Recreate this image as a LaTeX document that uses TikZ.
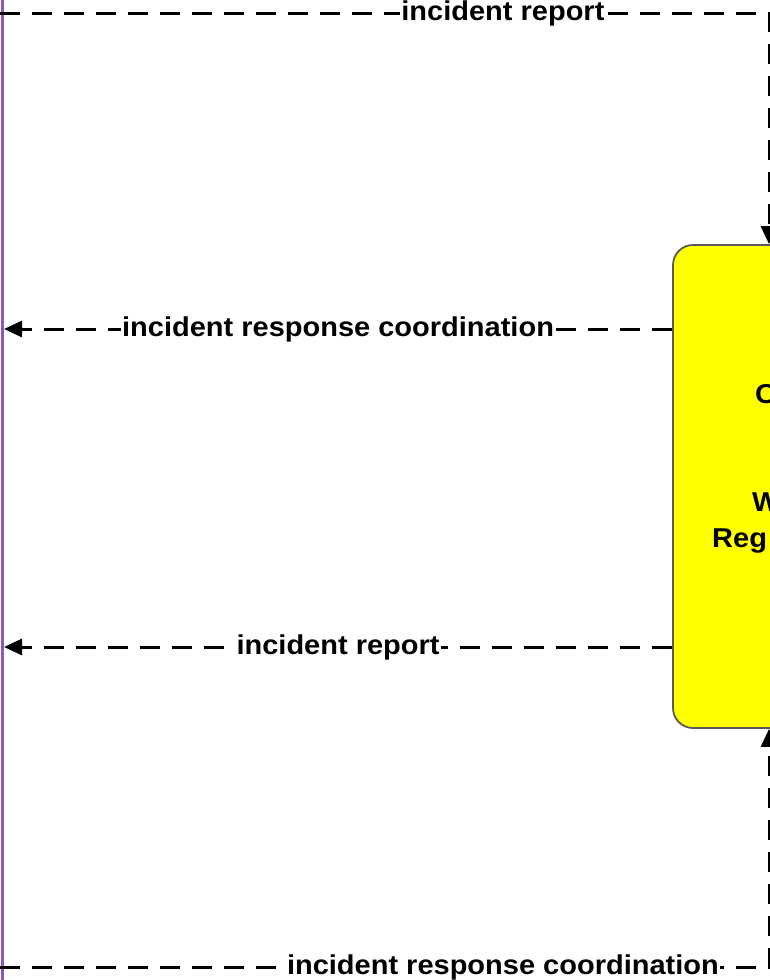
\documentclass[tikz,border=0pt]{standalone}
\usepackage{fontspec}
\usepackage{graphicx}
\setmainfont{Liberation Sans}
\usetikzlibrary{arrows.meta}
\definecolor{boxyellow}{RGB}{255,255,0}
\definecolor{edgepurple}{RGB}{140,85,200}
\newcommand{\squeeze}[1]{\scalebox{1}[0.94]{#1}}

\begin{document}
\begin{tikzpicture}[x=1pt, y=-1pt,
  flow/.style={line width=3pt, dash pattern=on 20pt off 12pt, -{Triangle[length=18pt,width=16pt]}},
  lbl/.style={fill=white, inner xsep=1pt, inner ysep=0.5pt, font=\fontsize{29}{34}\selectfont\bfseries},
  centerbox/.style={draw=black!65, line width=1.8pt, fill=boxyellow, rounded corners=20pt, minimum width=192pt, minimum height=483pt},
  boxtxt/.style={anchor=base west, inner sep=0pt, font=\fontsize{29}{34}\selectfont\bfseries}]

    % Frame
    \useasboundingbox (0,0) rectangle (770,980);
    \clip (0,0) rectangle (770,980);

    % Edge of the neighbouring box
    \draw[edgepurple, line width=3pt] (2,0) -- (2,980);

    % Centre box and the part of its text that shows
    \node[centerbox] (center) at (769,486.5) {};
    \node[boxtxt] (txtO) at (755,403) {\squeeze{O}};
    \node[boxtxt] (txtW) at (752,511) {\squeeze{W}};
    \node[boxtxt] (txtReg) at (712,547) {\squeeze{Reg}};

    % Flows into the box
    \coordinate (topL) at (0,13);
    \coordinate (botL) at (0,967);
    \draw[flow] (topL) -- node[lbl, pos=0.654] {\squeeze{incident report}} (topL -| center.north) -- (center.north);
    \draw[flow] (botL) -- node[lbl, pos=0.654] {\squeeze{incident response coordination}} (botL -| center.south) -- (center.south);

    % Flows out of the box
    \coordinate (coordL) at (4,329);
    \coordinate (reportL) at (4,647);
    \draw[flow] (coordL -| center.west) -- node[lbl] {\squeeze{incident response coordination}} (coordL);
    \draw[flow] (reportL -| center.west) -- node[lbl] {\squeeze{incident report}} (reportL);
\end{tikzpicture}
\end{document}
